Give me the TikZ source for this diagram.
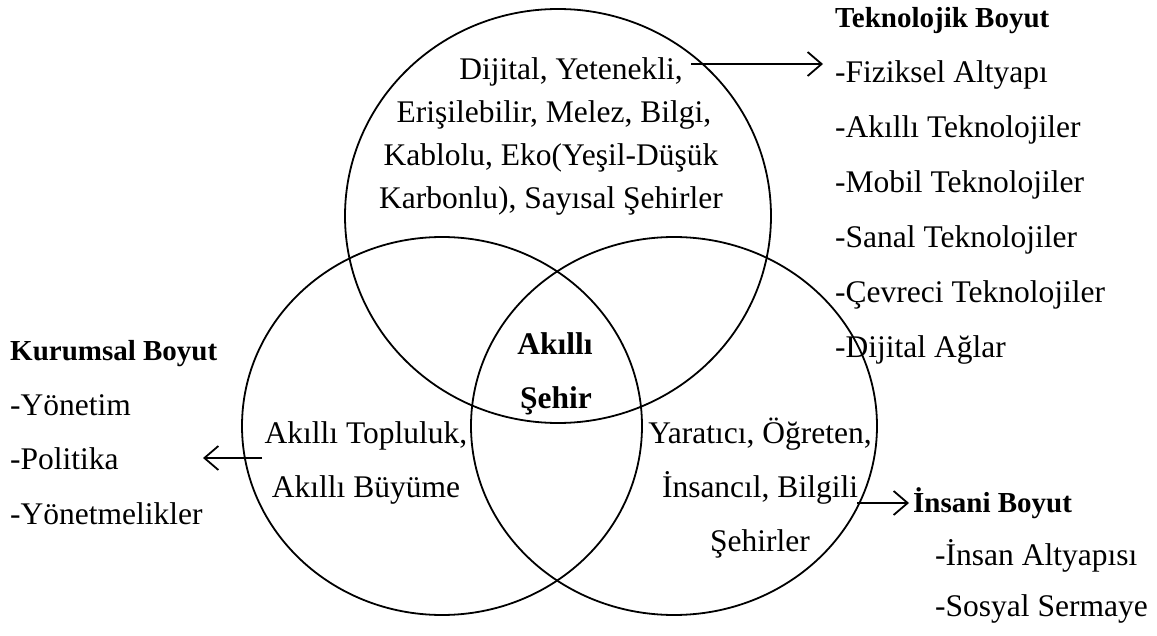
\documentclass[tikz,border=0pt]{standalone}
\usepackage{fontspec}
\setmainfont{Liberation Serif}
\usetikzlibrary{arrows.meta}
\begin{document}
\begin{tikzpicture}[x=1pt,y=-1pt,
  ring/.style={draw=black,line width=1.8pt},
  txt/.style={inner sep=0pt,font=\fontsize{31.5}{36}\selectfont},
  ctxt/.style={inner sep=0pt,font=\fontsize{31.5}{36}\selectfont\bfseries},
  htxt/.style={inner sep=0pt,font=\fontsize{29}{36}\selectfont\bfseries},
  conn/.style={draw=black,line width=1.8pt,-{Straight Barb[length=14pt,width=24pt,line width=1.8pt]}}]
\useasboundingbox (0,0) rectangle (1157,636);
% circles
\draw[ring] (558,216) ellipse [x radius=213, y radius=207];
\draw[ring] (442,426) ellipse [x radius=200, y radius=189];
\draw[ring] (674,426) ellipse [x radius=203, y radius=189];
% top circle text
\node[txt,anchor=base] (t1) at (571,80) {Dijital, Yetenekli,};
\node[txt,anchor=base] (t2) at (554,123) {Erişilebilir, Melez, Bilgi,};
\node[txt,anchor=base] (t3) at (551,166) {Kablolu, Eko(Yeşil-Düşük};
\node[txt,anchor=base] (t4) at (551,209) {Karbonlu), Sayısal Şehirler};
% centre
\node[ctxt,anchor=base] (c1) at (555,355) {Akıllı};
\node[ctxt,anchor=base] (c2) at (556,408) {Şehir};
% left circle text
\node[txt,anchor=base] (l1) at (366,443) {Akıllı Topluluk,};
\node[txt,anchor=base] (l2) at (366,497) {Akıllı Büyüme};
% right circle text
\node[txt,anchor=base] (r1) at (760,443) {Yaratıcı, Öğreten,};
\node[txt,anchor=base] (r2) at (760,497) {İnsancıl, Bilgili};
\node[txt,anchor=base] (r3) at (760,551) {Şehirler};
% technological list
\node[htxt,anchor=base west] (k0) at (835,28) {Teknolojik Boyut};
\node[txt,anchor=base west] (k1) at (835,83) {-Fiziksel Altyapı};
\node[txt,anchor=base west] (k2) at (835,138) {-Akıllı Teknolojiler};
\node[txt,anchor=base west] (k3) at (835,193) {-Mobil Teknolojiler};
\node[txt,anchor=base west] (k4) at (835,248) {-Sanal Teknolojiler};
\node[txt,anchor=base west] (k5) at (835,303) {-Çevreci Teknolojiler};
\node[txt,anchor=base west] (k6) at (835,358) {-Dijital Ağlar};
% institutional list
\node[htxt,anchor=base west] (m0) at (10,360) {Kurumsal Boyut};
\node[txt,anchor=base west] (m1) at (10,415) {-Yönetim};
\node[txt,anchor=base west] (m2) at (10,469) {-Politika};
\node[txt,anchor=base west] (m3) at (10,524) {-Yönetmelikler};
% human list
\node[htxt,anchor=base west] (h0) at (913,512) {İnsani Boyut};
\node[txt,anchor=base west] (h1) at (935,565) {-İnsan Altyapısı};
\node[txt,anchor=base west] (h2) at (935,616) {-Sosyal Sermaye};
% connectors
\coordinate (a1s) at (691,64);
\coordinate (a1e) at (823,64);
\coordinate (a2s) at (262,458);
\coordinate (a2e) at (203,458);
\coordinate (a3s) at (857,503);
\coordinate (a3e) at (909,503);
\draw[conn] (a1s) -- (a1e);
\draw[conn] (a2s) -- (a2e);
\draw[conn] (a3s) -- (a3e);
\end{tikzpicture}
\end{document}
